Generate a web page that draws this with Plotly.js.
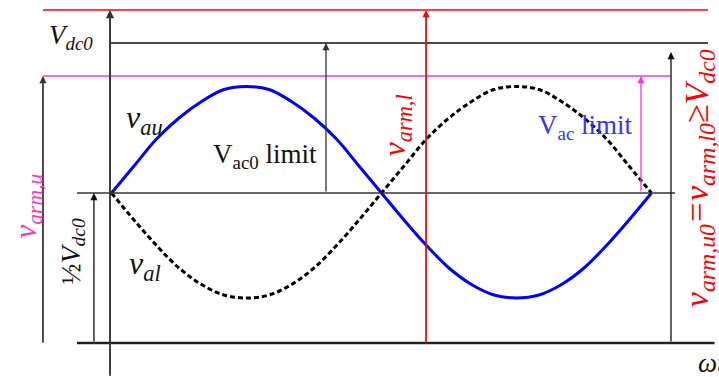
<!DOCTYPE html>
<html>
<head>
<meta charset="utf-8">
<script src="https://cdn.plot.ly/plotly-3.0.1.min.js"></script>
<style>
  html, body { margin: 0; padding: 0; background: #fff; }
  #chart { width: 719px; height: 377px; }
</style>
</head>
<body>
<div id="chart"></div>
<script>
// phase angle (deg) and arm voltages in units of 1/2 Vdc0
const phaseDeg = [0, 15, 30, 45, 60, 75, 90, 105, 120, 135, 150, 165, 180,
                  195, 210, 225, 240, 255, 270, 285, 300, 315, 330, 345, 360];
const vauValues = [0, 0.18, 0.36, 0.50, 0.61, 0.69, 0.71, 0.69, 0.61, 0.50, 0.36, 0.18, 0,
                   -0.18, -0.35, -0.50, -0.61, -0.68, -0.70, -0.68, -0.61, -0.50, -0.35, -0.18, 0];
const valValues = [0, -0.18, -0.35, -0.50, -0.61, -0.68, -0.70, -0.68, -0.61, -0.50, -0.35, -0.18, 0,
                   0.18, 0.36, 0.50, 0.61, 0.69, 0.71, 0.69, 0.61, 0.50, 0.36, 0.18, 0];

// reference levels (1/2 Vdc0 = 1)
const armLimitLevel = 1.22;   // v_arm limit (red)
const vdc0Level = 1.0;        // Vdc0
const vacLimitLevel = 0.78;   // Vac limit (magenta)
const midLevel = 0;
const bottomLevel = -1.0;

const serif = "Liberation Serif, Times New Roman, serif";
const RED = "#ff0000", MAG = "#ff33cc", BLK = "#111111";

const hline = (y, x0, x1, color, width) => ({
    type: "line", xref: "x", yref: "y", x0, x1, y0: y, y1: y,
    line: { color, width }
});
const vline = (x, y0, y1, color, width) => ({
    type: "line", xref: "x", yref: "y", x0: x, x1: x, y0, y1,
    line: { color, width }
});
const arrow = (x, yTip, yTail, color, width = 1.5, size = 1.1) => ({
    x, y: yTip, ax: x, ay: yTail, axref: "x", ayref: "y",
    text: "", showarrow: true, arrowhead: 2, arrowsize: size,
    arrowwidth: width, arrowcolor: color, standoff: 0, startstandoff: 0
});
const label = (x, y, text, size, color = BLK, angle = 0, extra = {}) => Object.assign({
    x, y, text, showarrow: false, textangle: angle,
    font: { family: serif, size, color }
}, extra);

const traces = [
    {
        x: phaseDeg, y: vauValues, type: "scatter", mode: "lines",
        line: { color: "#0000ff", width: 3, shape: "spline" }, hoverinfo: "skip"
    },
    {
        x: phaseDeg, y: valValues, type: "scatter", mode: "lines",
        line: { color: "#000000", width: 3, shape: "spline", dash: "5px,3px" }, hoverinfo: "skip"
    }
];

const shapes = [
    hline(armLimitLevel, -45.7, 397.7, RED, 1.5),
    hline(vdc0Level, -1, 397.7, BLK, 1.5),
    hline(vacLimitLevel, -45.7, 373, MAG, 1.5),
    hline(midLevel, -23, 375.7, "#333333", 1.5),
    hline(bottomLevel, -23, 402, "#222222", 2.5),
    vline(-45.7, bottomLevel, vacLimitLevel - 0.03, "#333333", 1.3),
    vline(-1, -1.22, armLimitLevel - 0.03, "#333333", 1.5),
    vline(209.7, bottomLevel, armLimitLevel - 0.03, RED, 1.3)
];

const annotations = [
    arrow(-45.7, vacLimitLevel, bottomLevel, "#333333", 1.3),
    arrow(-1, armLimitLevel, -1.22, "#333333", 1.5),
    arrow(-11.7, midLevel, bottomLevel, BLK, 1.3),
    arrow(143, vdc0Level, midLevel, "#333333", 1.3),
    arrow(209.7, armLimitLevel, bottomLevel, RED, 1.3),
    arrow(353, vacLimitLevel, midLevel, MAG, 1.3),
    arrow(373, 0.94, bottomLevel, BLK, 1.3),
    arrow(404.5, bottomLevel, bottomLevel, "#555555", 1.3),

    label(-27, 1.04, "<i>V<sub>dc0</sub></i>", 27),
    label(22, 0.49, "<i>v<sub>au</sub></i>", 32),
    label(102.3, 0.25, "V<sub>ac0</sub> limit", 27),
    label(190.3, 0.45, "<i>v<sub>arm,l</sub></i>", 32, RED, -90),
    label(315.7, 0.44, "V<sub>ac</sub> limit", 27, "#3333ff"),
    label(391.8, 0.1, "<i>v<sub>arm,u0</sub>=v<sub>arm,l0</sub>≥V<sub>dc0</sub></i>", 34, RED, -90),
    label(-56.3, -0.09, "<i>v<sub>arm,u</sub></i>", 31, MAG, -90),
    label(-26.3, -0.39, "½<i>V<sub>dc0</sub></i>", 28, BLK, -90),
    label(22, -0.48, "<i>v<sub>al</sub></i>", 32),
    label(389.5, -1.13, "<i>ωt</i>", 27, BLK, 0, { xanchor: "left" })
];

const layout = {
    width: 719, height: 377,
    margin: { l: 0, r: 0, t: 0, b: 0, pad: 0 },
    paper_bgcolor: "#ffffff", plot_bgcolor: "#ffffff",
    showlegend: false,
    xaxis: { range: [-74.33, 405], visible: false, fixedrange: true },
    yaxis: { range: [-1.2267, 1.2867], visible: false, fixedrange: true },
    shapes, annotations
};

Plotly.newPlot("chart", traces, layout, { displayModeBar: false, staticPlot: true });
</script>
</body>
</html>
